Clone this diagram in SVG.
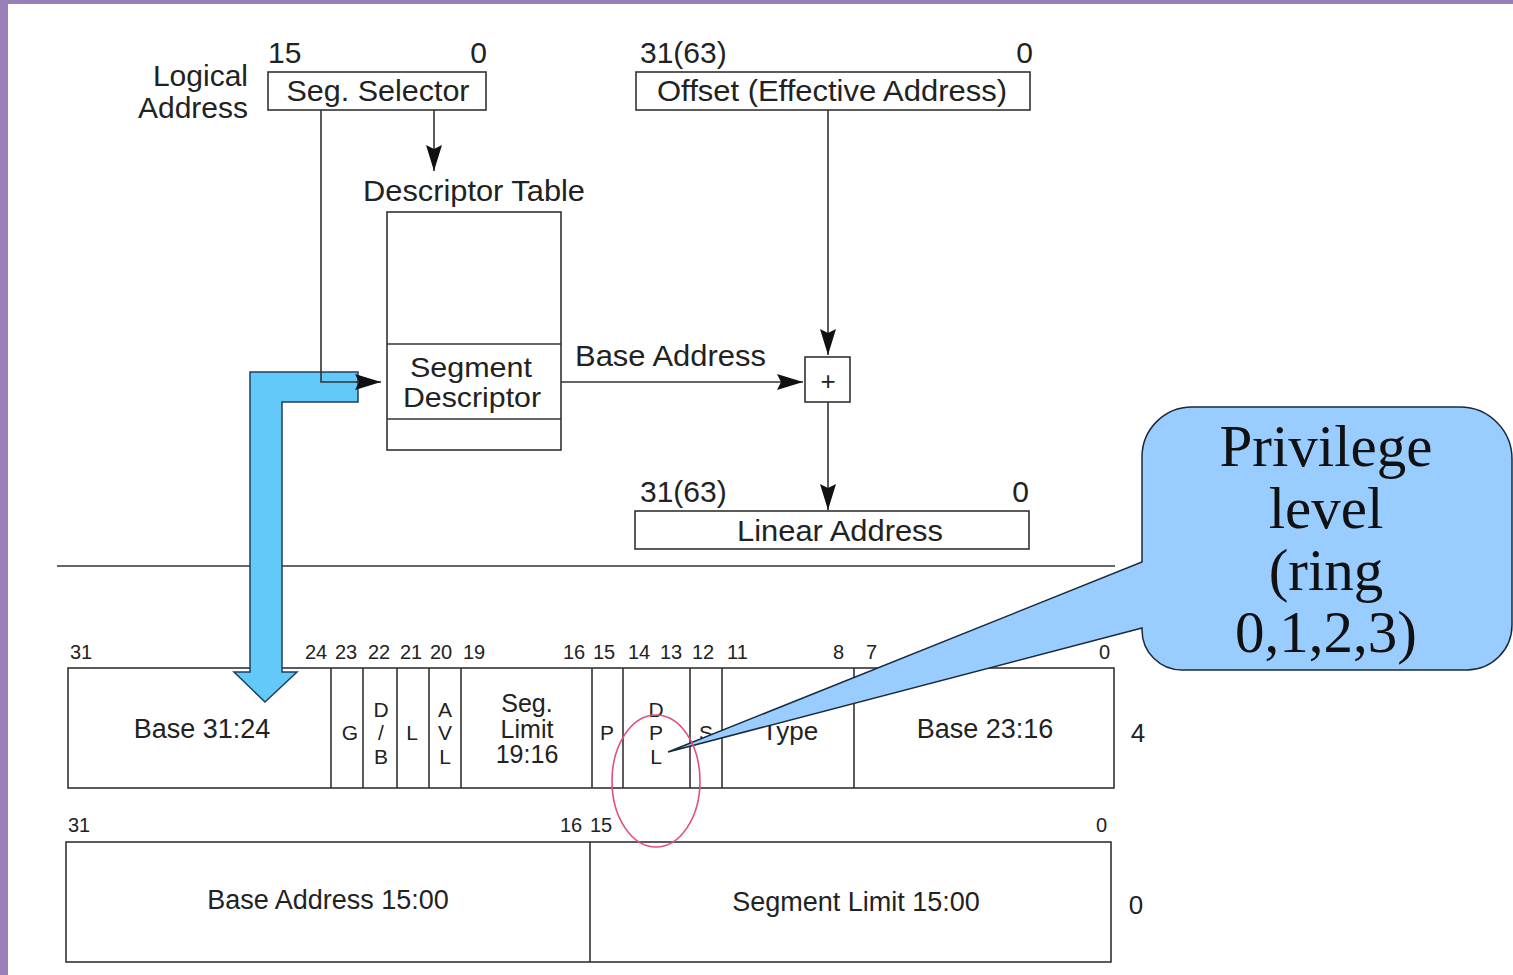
<svg xmlns="http://www.w3.org/2000/svg" width="1513" height="975" viewBox="0 0 1513 975">
<style>
.t{font-family:"Liberation Sans",Arial,sans-serif;fill:#222;}
.big{font-size:30px;}
.mid{font-size:27px;}
.cell{font-size:21px;}
.bit{font-size:20px;}
.box{fill:#fff;stroke:#333;stroke-width:1.6;}
.ln{stroke:#333;stroke-width:1.6;fill:none;}
.serif{font-family:"Liberation Serif","Times New Roman",serif;font-size:59px;fill:#111;}
</style>
<defs>
<marker id="ah" markerUnits="userSpaceOnUse" markerWidth="28" markerHeight="18" refX="26" refY="8" orient="auto">
<path d="M0,0 L26,8 L0,16 L4,8 z" fill="#111"/>
</marker>
</defs>
<rect x="0" y="0" width="1513" height="975" fill="#fff"/>
<rect x="0" y="0" width="1513" height="4" fill="#9a80b8"/>
<rect x="0" y="0" width="8" height="975" fill="#9a80b8"/>

<g id="logical-label">
<text class="t big" x="248" y="86" text-anchor="end">Logical</text>
<text class="t big" x="248" y="118" text-anchor="end">Address</text>
</g>
<g id="seg-selector">
<text class="t big" x="268" y="63">15</text>
<text class="t big" x="487" y="63" text-anchor="end">0</text>
<rect class="box" x="268" y="72" width="218" height="38"/>
<text class="t big" x="378" y="101" text-anchor="middle" textLength="183" lengthAdjust="spacingAndGlyphs">Seg. Selector</text>
</g>
<g id="offset">
<text class="t big" x="640" y="63">31(63)</text>
<text class="t big" x="1033" y="63" text-anchor="end">0</text>
<rect class="box" x="636" y="72" width="394" height="38"/>
<text class="t big" x="832" y="101" text-anchor="middle" textLength="350" lengthAdjust="spacingAndGlyphs">Offset (Effective Address)</text>
</g>
<g id="descriptor-table">
<text class="t big" x="474" y="201" text-anchor="middle" textLength="222" lengthAdjust="spacingAndGlyphs">Descriptor Table</text>
<rect class="box" x="387" y="212" width="174" height="238"/>
<line class="ln" x1="387" y1="344" x2="561" y2="344"/>
<line class="ln" x1="387" y1="419" x2="561" y2="419"/>
<text class="t" font-size="28" x="471" y="377" text-anchor="middle" textLength="122" lengthAdjust="spacingAndGlyphs">Segment</text>
<text class="t" font-size="28" x="472" y="407" text-anchor="middle" textLength="138" lengthAdjust="spacingAndGlyphs">Descriptor</text>
</g>
<g id="plus">
<rect class="box" x="805" y="357" width="45" height="45"/>
<text class="t" x="828" y="390" text-anchor="middle" font-size="26">+</text>
</g>
<g id="linear">
<text class="t big" x="640" y="502">31(63)</text>
<text class="t big" x="1029" y="502" text-anchor="end">0</text>
<rect class="box" x="635" y="511" width="394" height="38"/>
<text class="t big" x="840" y="541" text-anchor="middle" textLength="206" lengthAdjust="spacingAndGlyphs">Linear Address</text>
</g>
<line id="separator" x1="57" y1="566" x2="1115" y2="566" stroke="#333" stroke-width="1.6"/>

<g id="descriptor-high">
<g class="t bit">
<text x="70" y="659">31</text>
<text x="305" y="659">24</text>
<text x="335" y="659">23</text>
<text x="368" y="659">22</text>
<text x="400" y="659">21</text>
<text x="430" y="659">20</text>
<text x="463" y="659">19</text>
<text x="563" y="659">16</text>
<text x="593" y="659">15</text>
<text x="628" y="659">14</text>
<text x="660" y="659">13</text>
<text x="692" y="659">12</text>
<text x="727" y="659">11</text>
<text x="833" y="659">8</text>
<text x="866" y="659">7</text>
<text x="1099" y="659">0</text>
</g>
<rect class="box" x="68" y="668" width="1046" height="120"/>
<g class="ln">
<line x1="331" y1="668" x2="331" y2="788"/>
<line x1="363" y1="668" x2="363" y2="788"/>
<line x1="397" y1="668" x2="397" y2="788"/>
<line x1="429" y1="668" x2="429" y2="788"/>
<line x1="461" y1="668" x2="461" y2="788"/>
<line x1="592" y1="668" x2="592" y2="788"/>
<line x1="623" y1="668" x2="623" y2="788"/>
<line x1="690" y1="668" x2="690" y2="788"/>
<line x1="722" y1="668" x2="722" y2="788"/>
<line x1="854" y1="668" x2="854" y2="788"/>
</g>
<text class="t mid" x="202" y="738" text-anchor="middle">Base 31:24</text>
<g class="t cell" text-anchor="middle">
<text x="350" y="740">G</text>
<text x="381" y="717">D</text>
<text x="381" y="740">/</text>
<text x="381" y="764">B</text>
<text x="412" y="740">L</text>
<text x="445" y="717">A</text>
<text x="445" y="740">V</text>
<text x="445" y="764">L</text>
<text x="607" y="740">P</text>
<text x="656" y="717">D</text>
<text x="656" y="740">P</text>
<text x="656" y="764">L</text>
<text x="706" y="740">S</text>
</g>
<g class="t" font-size="25" text-anchor="middle">
<text x="527" y="712">Seg.</text>
<text x="527" y="738">Limit</text>
<text x="527" y="763">19:16</text>
<text x="790" y="740" font-size="26">Type</text>
</g>
<text class="t mid" x="985" y="738" text-anchor="middle">Base 23:16</text>
<text class="t" x="1138" y="742" font-size="26" text-anchor="middle">4</text>
</g>

<g id="descriptor-low">
<g class="t bit">
<text x="68" y="832">31</text>
<text x="560" y="832">16</text>
<text x="590" y="832">15</text>
<text x="1096" y="832">0</text>
</g>
<rect class="box" x="66" y="842" width="1045" height="120"/>
<line class="ln" x1="590" y1="842" x2="590" y2="962"/>
<text class="t mid" x="328" y="909" text-anchor="middle">Base Address 15:00</text>
<text class="t mid" x="856" y="911" text-anchor="middle">Segment Limit 15:00</text>
<text class="t" x="1136" y="914" font-size="26" text-anchor="middle">0</text>
</g>

<g id="blue-arrow">
<polygon points="250,372 358,372 358,402 282,402 282,672 297,672 265,702 234,672 250,672" fill="#62c9f8" stroke="#1f3f5f" stroke-width="1.5"/>
</g>

<g id="connectors">
<polyline class="ln" points="321,110 321,382 358,382" />
<line class="ln" x1="356" y1="382" x2="381" y2="382" marker-end="url(#ah)"/>
<line class="ln" x1="434" y1="110" x2="434" y2="171" marker-end="url(#ah)"/>
<line class="ln" x1="828" y1="110" x2="828" y2="355" marker-end="url(#ah)"/>
<line class="ln" x1="561" y1="382" x2="803" y2="382" marker-end="url(#ah)"/>
<line class="ln" x1="828" y1="402" x2="828" y2="510" marker-end="url(#ah)"/>
<text class="t big" x="575" y="366" textLength="191" lengthAdjust="spacingAndGlyphs">Base Address</text>
</g>

<g id="callout">
<path d="M1192,407 H1460 A52,52 0 0 1 1512,459 V625 A45,45 0 0 1 1467,670 H1182 A40,40 0 0 1 1142,630 V628 L668,752 L1142,562 V457 A50,50 0 0 1 1192,407 Z" fill="#99ccff" stroke="#1a2a3a" stroke-width="1.5"/>
<g class="serif" text-anchor="middle">
<text x="1326" y="466">Privilege</text>
<text x="1326" y="528">level</text>
<text x="1326" y="590">(ring</text>
<text x="1326" y="652">0,1,2,3)</text>
</g>
</g>

<ellipse id="dpl-highlight" cx="656" cy="781" rx="44" ry="66" fill="none" stroke="#e0507a" stroke-width="1.6"/>
</svg>
